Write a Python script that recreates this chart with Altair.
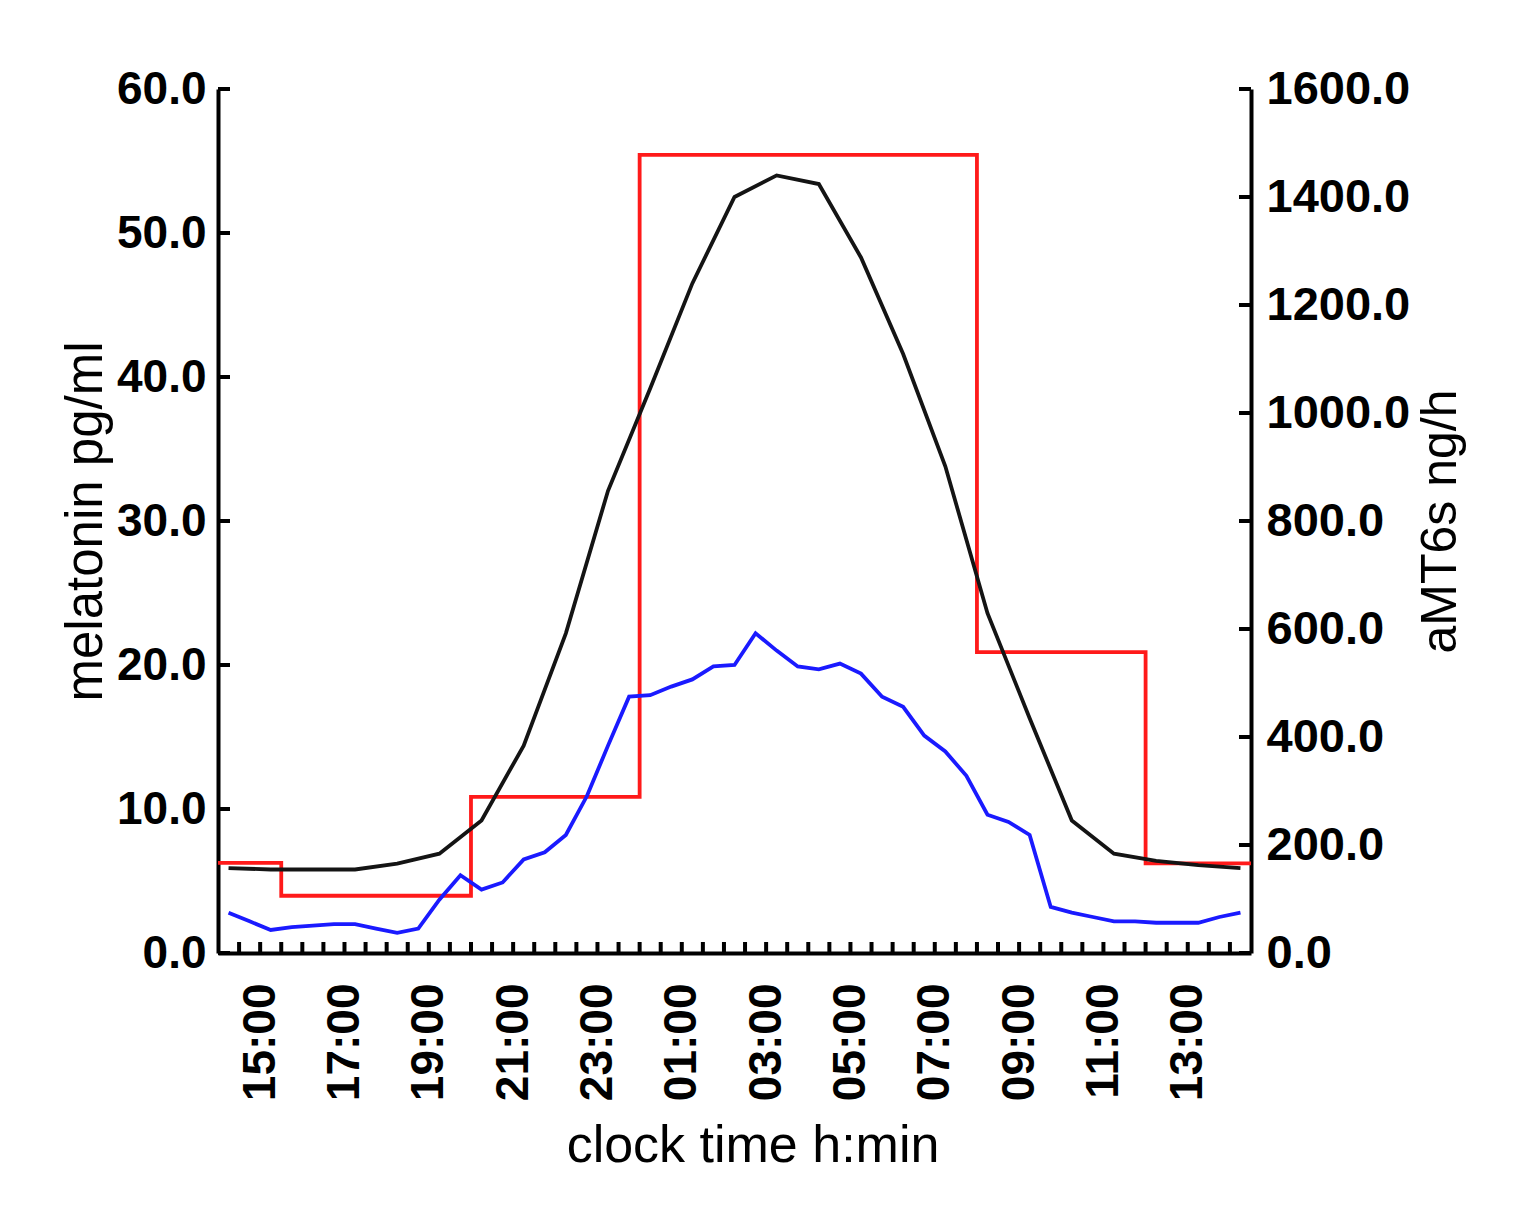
import altair as alt
import pandas as pd

# ---------------- data ----------------
# plasma melatonin (pg/ml), hourly samples
black_times = ["14:15", "15:15", "16:15", "17:15", "18:15", "19:15", "20:15", "21:15",
               "22:15", "23:15", "00:15", "01:15", "02:15", "03:15", "04:15", "05:15",
               "06:15", "07:15", "08:15", "09:15", "10:15", "11:15", "12:15", "13:15", "14:15"]
black_values = [5.9, 5.8, 5.8, 5.8, 6.2, 6.9, 9.2, 14.4, 22.2, 32.1, 39.2, 46.5, 52.5,
                54.0, 53.4, 48.3, 41.6, 33.8, 23.6, 16.3, 9.2, 6.9, 6.4, 6.1, 5.9]

# second melatonin series (pg/ml), half-hourly samples
blue_times = ["14:15", "14:45", "15:15", "15:45", "16:15", "16:45", "17:15", "17:45",
              "18:15", "18:45", "19:15", "19:45", "20:15", "20:45", "21:15", "21:45",
              "22:15", "22:45", "23:15", "23:45", "00:15", "00:45", "01:15", "01:45",
              "02:15", "02:45", "03:15", "03:45", "04:15", "04:45", "05:15", "05:45",
              "06:15", "06:45", "07:15", "07:45", "08:15", "08:45", "09:15", "09:45",
              "10:15", "10:45", "11:15", "11:45", "12:15", "12:45", "13:15", "13:45", "14:15"]
blue_values = [2.8, 2.2, 1.6, 1.8, 1.9, 2.0, 2.0, 1.7, 1.4, 1.7, 3.7, 5.4, 4.4, 4.9,
               6.5, 7.0, 8.2, 10.9, 14.4, 17.8, 17.9, 18.5, 19.0, 19.9, 20.0, 22.2,
               21.0, 19.9, 19.7, 20.1, 19.4, 17.8, 17.1, 15.1, 14.0, 12.3, 9.6, 9.1,
               8.2, 3.2, 2.8, 2.5, 2.2, 2.2, 2.1, 2.1, 2.1, 2.5, 2.8]

# urinary aMT6s (ng/h), collection intervals (step starts)
red_times = ["14:00", "15:30", "20:00", "00:00", "08:00", "12:00", "14:30"]
red_values = [167, 106, 289, 1478, 557, 166, 166]

# axis ticks
left_ticks = [0, 10, 20, 30, 40, 50, 60]
right_ticks = [0, 200, 400, 600, 800, 1000, 1200, 1400, 1600]
x_tick_times = ["14:30", "15:00", "15:30", "16:00", "16:30", "17:00", "17:30", "18:00",
                "18:30", "19:00", "19:30", "20:00", "20:30", "21:00", "21:30", "22:00",
                "22:30", "23:00", "23:30", "00:00", "00:30", "01:00", "01:30", "02:00",
                "02:30", "03:00", "03:30", "04:00", "04:30", "05:00", "05:30", "06:00",
                "06:30", "07:00", "07:30", "08:00", "08:30", "09:00", "09:30", "10:00",
                "10:30", "11:00", "11:30", "12:00", "12:30", "13:00", "13:30", "14:00"]
x_label_times = ["15:00", "17:00", "19:00", "21:00", "23:00", "01:00", "03:00",
                 "05:00", "07:00", "09:00", "11:00", "13:00"]


def to_hours(times):
    """Clock strings -> hours after 14:00 on day 1, rolling over midnight."""
    out, prev = [], -1.0
    for s in times:
        h, m = s.split(":")
        v = (int(h) - 14) % 24 + int(m) / 60.0
        while v < prev:
            v += 24
        out.append(v)
        prev = v
    return out


black_df = pd.DataFrame({"h": to_hours(black_times), "v": black_values})
blue_df = pd.DataFrame({"h": to_hours(blue_times), "v": blue_values})
red_df = pd.DataFrame({"h": to_hours(red_times), "v": red_values})
xt_df = pd.DataFrame({"h": to_hours(x_tick_times)})
lt_df = pd.DataFrame({"v": left_ticks})
rt_df = pd.DataFrame({"v": right_ticks})

W, H = 1033, 864
FONT = "Liberation Sans"
LW = 3.8
AW = 4

xscale = alt.Scale(domain=[0, 24.5], nice=False, zero=False)
xaxis = alt.Axis(
    values=to_hours(x_label_times),
    labelExpr="format((14 + datum.value) % 24, '02d') + ':00'",
    labelAngle=270, labelFontSize=46, labelFontWeight="bold", labelPadding=30,
    tickSize=0, domainWidth=AW, domainColor="black",
    titleFontSize=52, titleFontWeight="normal", titlePadding=20, titleX=W / 2 + 18,
    grid=False, labelColor="black", titleColor="black",
)
X = alt.X("h:Q", scale=xscale, axis=xaxis, title="clock time h:min")

lscale = alt.Scale(domain=[0, 60], nice=False, zero=True)
rscale = alt.Scale(domain=[0, 1600], nice=False, zero=True)

laxis = alt.Axis(
    orient="left", values=left_ticks, format=".1f", tickSize=0,
    labelFontSize=46, labelFontWeight="bold", labelPadding=12, labelColor="black",
    domainWidth=AW, domainColor="black", grid=False,
    titleFontSize=51, titleFontWeight="normal", titlePadding=4, titleColor="black",
)
raxis = alt.Axis(
    orient="right", values=right_ticks, format=".1f", tickSize=0,
    labelFontSize=47, labelFontWeight="bold", labelPadding=15, labelColor="black",
    domainWidth=AW, domainColor="black", grid=False,
    titleFontSize=50, titleFontWeight="normal", titlePadding=6, titleColor="black",
    titleAngle=270, titleBaseline="top",
)

red = alt.Chart(red_df).mark_line(
    color="#ff1a1a", strokeWidth=LW, interpolate="step-after", clip=False
).encode(x=X, y=alt.Y("v:Q", scale=rscale, axis=raxis, title="aMT6s ng/h"))

black = alt.Chart(black_df).mark_line(color="#141414", strokeWidth=LW).encode(
    x=X, y=alt.Y("v:Q", scale=lscale, axis=laxis, title="melatonin pg/ml"))

blue = alt.Chart(blue_df).mark_line(color="#1a1aff", strokeWidth=LW).encode(
    x=X, y=alt.Y("v:Q", scale=lscale, axis=None))

xticks = alt.Chart(xt_df).mark_rule(color="black", strokeWidth=AW).encode(
    x=X, y=alt.value(H), y2=alt.value(H - 11))

lticks = alt.Chart(lt_df).mark_rule(color="black", strokeWidth=AW).encode(
    y=alt.Y("v:Q", scale=lscale, axis=None), x=alt.value(0), x2=alt.value(12))

rticks = alt.Chart(rt_df).mark_rule(color="black", strokeWidth=AW).encode(
    y=alt.Y("v:Q", scale=rscale, axis=None), x=alt.value(W - 12), x2=alt.value(W))

chart = alt.layer(red, black, blue, xticks, lticks, rticks).resolve_scale(
    y="independent"
).properties(
    width=W, height=H,
    padding={"left": 210, "top": 81, "right": 250, "bottom": 240},
    autosize=alt.AutoSizeParams(type="none"),
    background="white",
).configure(
    font=FONT
).configure_view(
    stroke="transparent", strokeWidth=0
).configure_axis(
    grid=False
)

chart.save("out.html", embed_options={"renderer": "svg", "actions": False})
